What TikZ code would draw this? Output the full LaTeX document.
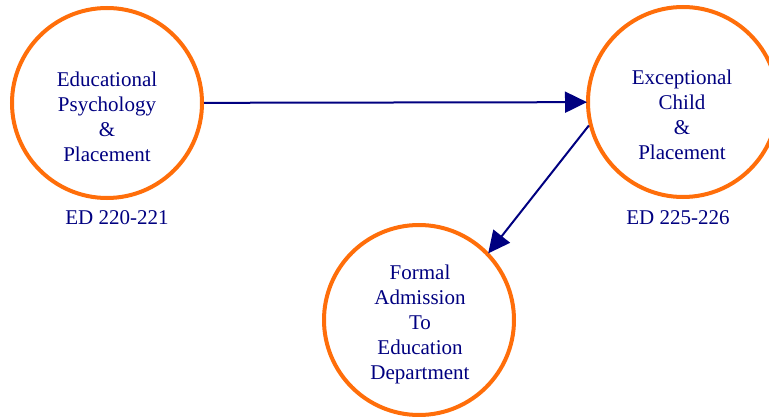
\documentclass[tikz,border=0pt]{standalone}
\usepackage{fontspec}
\setmainfont{Liberation Serif}
\usetikzlibrary{arrows.meta}
\definecolor{ringorange}{RGB}{255,110,10}
\definecolor{navy}{RGB}{0,0,128}
\tikzset{
  ring/.style={circle, draw=ringorange, line width=4pt, minimum size=190pt, inner sep=0pt},
  txt/.style={align=center, text=navy, font=\fontsize{21pt}{25pt}\selectfont},
  code/.style={text=navy, font=\fontsize{21pt}{25pt}\selectfont},
  link/.style={draw=navy, line width=2pt, -{Triangle[length=22pt,width=21pt]}, shorten >=-1pt}
}
\begin{document}
\begin{tikzpicture}[x=1pt,y=-1pt]
\useasboundingbox (0,0) rectangle (769,417);
\node[ring] (edpsy) at (107,103) {};
\node[ring] (except) at (683,102) {};
\node[ring] (formal) at (419,320) {};
\node[txt] (t1) at (107,117) {Educational\\Psychology\\\&\\Placement};
\node[txt] (t2) at (682,115) {Exceptional\\Child\\\&\\Placement};
\node[txt] (t3) at (420,324) {Formal\\Admission\\To\\Education\\Department};
\node[code] (c1) at (117,218) {ED 220-221};
\node[code] (c2) at (678,218) {ED 225-226};
\draw[link] (edpsy) -- (except);
\draw[link] (except.194) -- (formal.44);
\end{tikzpicture}
\end{document}
